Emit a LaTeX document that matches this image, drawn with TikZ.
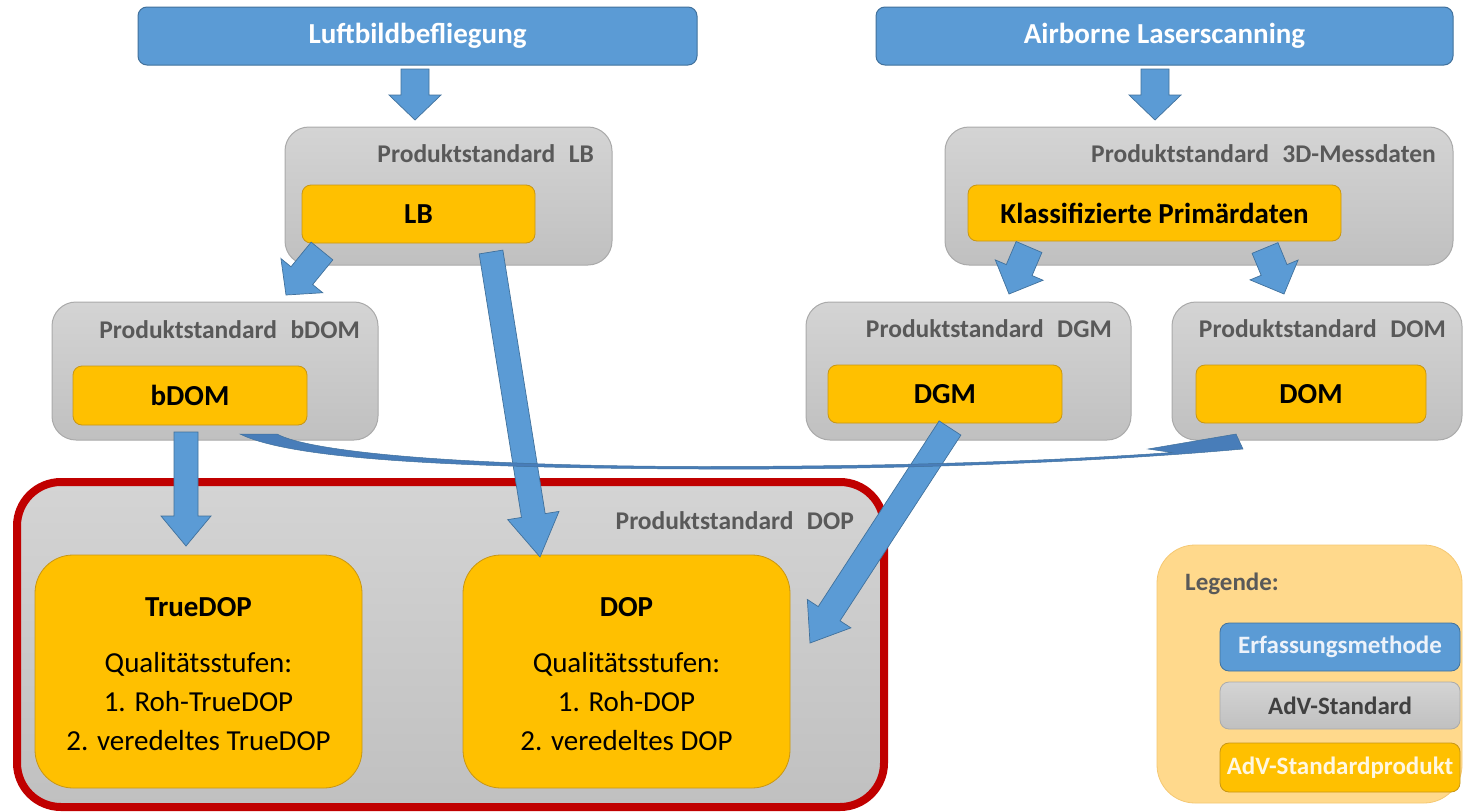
\documentclass[tikz,border=0pt]{standalone}
\usepackage{fontspec}
\setmainfont{Carlito}
\usetikzlibrary{calc}
\definecolor{cblue}{RGB}{91,155,213}
\definecolor{cblueb}{RGB}{65,113,156}
\definecolor{ccurve}{RGB}{72,125,185}
\definecolor{cgrayt}{RGB}{212,212,212}
\definecolor{cgrayl}{RGB}{192,192,192}
\definecolor{cgrayb}{RGB}{170,170,170}
\definecolor{cyel}{RGB}{255,192,0}
\definecolor{cyelb}{RGB}{200,150,20}
\definecolor{cred}{RGB}{192,0,0}
\definecolor{cleg}{RGB}{255,217,140}
\definecolor{clegb}{RGB}{245,200,115}
\definecolor{ctitle}{RGB}{89,89,89}
\definecolor{cdark}{RGB}{64,64,64}
\definecolor{clight}{RGB}{236,242,250}
\definecolor{cwarm}{RGB}{255,247,225}
% block arrow: from, to, half shaft, half head, head length
\newcommand\blockarrow[5]{%
  \path[barrow] let \p1=($(#2)-(#1)$), \n1={atan2(\y1,\x1)}, \n2={veclen(\x1,\y1)-#5} in
    ($(#1)+(\n1+90:#3pt)$) -- ($(#1)+(\n1:\n2)+(\n1+90:#3pt)$) --
    ($(#1)+(\n1:\n2)+(\n1+90:#4pt)$) -- (#2) --
    ($(#1)+(\n1:\n2)+(\n1-90:#4pt)$) -- ($(#1)+(\n1:\n2)+(\n1-90:#3pt)$) --
    ($(#1)+(\n1-90:#3pt)$) -- cycle;}
\begin{document}
\begin{tikzpicture}[x=1pt,y=-1pt,
  bluebox/.style={draw=cblueb, fill=cblue, rounded corners=9pt, line width=1pt, inner sep=0pt,
     text=white, font=\bfseries\fontsize{29}{34}\selectfont},
  graybox/.style={draw=cgrayb, top color=cgrayt, bottom color=cgrayl, rounded corners=24pt,
     line width=1pt, inner sep=0pt},
  yelbox/.style={draw=cyelb, fill=cyel, rounded corners=9pt, line width=0.8pt, inner sep=0pt,
     font=\bfseries\fontsize{29}{34}\selectfont},
  bigyel/.style={draw=cyelb, fill=cyel, rounded corners=38pt, line width=0.8pt, inner sep=0pt},
  gtitle/.style={text=ctitle, font=\bfseries\fontsize{25.5}{30}\selectfont, inner sep=0pt, anchor=base east},
  ytitle/.style={font=\bfseries\fontsize{29}{34}\selectfont, inner sep=0pt, anchor=base},
  ytext/.style={font=\fontsize{29}{34}\selectfont, inner sep=0pt, anchor=base},
  legbox/.style={rounded corners=9pt, line width=0.8pt, inner sep=0pt, minimum width=240pt,
     font=\bfseries\fontsize{25}{30}\selectfont},
  barrow/.style={fill=cblue, draw=cblueb, line width=0.7pt, line join=miter},
]
\useasboundingbox (0,0) rectangle (1464,811);
\fill[white] (0,0) rectangle (1464,811);

% top methods
\node[bluebox, minimum width=559pt, minimum height=58pt] (lbf) at (417.5,36) {Luftbildbefliegung};
\node[bluebox, minimum width=577pt, minimum height=58pt] (als) at (1164.5,36) {Airborne Laserscanning};

% gray standards
\node[graybox, minimum width=327pt, minimum height=138pt] (gLB) at (448.5,196) {};
\node[graybox, minimum width=508pt, minimum height=138pt] (g3D) at (1199,196) {};
\node[graybox, minimum width=326pt, minimum height=138pt] (gbDOM) at (215,371) {};
\node[graybox, minimum width=325pt, minimum height=138pt] (gDGM) at (968.5,371) {};
\node[graybox, minimum width=290pt, minimum height=138pt] (gDOM) at (1317,371) {};

\node[gtitle] (tLB) at (594,162) {Produktstandard\hspace{0.3em} LB};
\node[gtitle] (t3D) at (1436,162) {Produktstandard\hspace{0.3em} 3D-Messdaten};
\node[gtitle] (tbDOM) at (360,338) {Produktstandard\hspace{0.3em} bDOM};
\node[gtitle] (tDGM) at (1112,337) {Produktstandard\hspace{0.3em} DGM};
\node[gtitle] (tDOM) at (1446,337) {Produktstandard\hspace{0.3em} DOM};

% yellow products
\node[yelbox, minimum width=233pt, minimum height=58pt] (yLB) at (418.5,214) {LB};
\node[yelbox, minimum width=373pt, minimum height=56pt] (yKP) at (1154.5,213) {Klassifizierte Primärdaten};
\node[yelbox, minimum width=234pt, minimum height=59pt] (ybDOM) at (190,395.5) {bDOM};
\node[yelbox, minimum width=234pt, minimum height=58pt] (yDGM) at (945,394) {DGM};
\node[yelbox, minimum width=230pt, minimum height=58pt] (yDOM) at (1311,394) {DOM};

% DOP standard
\node[draw=cred, line width=8pt, top color=cgrayt, bottom color=cgrayl, rounded corners=44pt,
      inner sep=0pt, minimum width=867pt, minimum height=325pt] (gDOP) at (450.5,644.5) {};
\node[gtitle] (tDOP) at (854,529) {Produktstandard\hspace{0.3em} DOP};

\node[bigyel, minimum width=327pt, minimum height=233pt] (yTDOP) at (198.5,671.5) {};
\node[ytitle] (hTDOP) at (198.5,616) {TrueDOP};
\node[ytext] (q1) at (198.5,672) {Qualitätsstufen:};
\node[ytext] (q2) at (198.5,711) {1. Roh-TrueDOP};
\node[ytext] (q3) at (198.5,750) {2. veredeltes TrueDOP};

\node[bigyel, minimum width=327pt, minimum height=233pt] (yDOP) at (626.5,671.5) {};
\node[ytitle] (hDOP) at (626.5,616) {DOP};
\node[ytext] (r1) at (626.5,672) {Qualitätsstufen:};
\node[ytext] (r2) at (626.5,711) {1. Roh-DOP};
\node[ytext] (r3) at (626.5,750) {2. veredeltes DOP};

% legend
\node[draw=clegb, fill=cleg, rounded corners=38pt, line width=0.8pt, inner sep=0pt,
      minimum width=305pt, minimum height=258pt] (leg) at (1309.5,674) {};
\node[text=ctitle, font=\bfseries\fontsize{25}{30}\selectfont, inner sep=0pt, anchor=base west] (legt) at (1185,590) {Legende:};
\node[legbox, draw=cblueb, fill=cblue, text=clight, minimum height=48pt] (l1) at (1340,647) {Erfassungsmethode};
\node[legbox, draw=cgrayb, top color=cgrayt, bottom color=cgrayl, text=cdark, minimum height=47pt] (l2) at (1340,705.5) {AdV-Standard};
\node[legbox, draw=cyelb, fill=cyel, text=cwarm, minimum height=49pt] (l3) at (1340,767.5) {AdV-Standardprodukt};

% block arrows
\coordinate (a1s) at (415,69);   \coordinate (a1e) at (415,120);
\coordinate (a2s) at (1155,69);  \coordinate (a2e) at (1155,120);
\coordinate (a3s) at (322,251);  \coordinate (a3e) at (286,295);
\coordinate (a4s) at (491,252);  \coordinate (a4e) at (540,557);
\coordinate (a5s) at (1029,247); \coordinate (a5e) at (1009,294);
\coordinate (a6s) at (1265,248); \coordinate (a6e) at (1284,294);
\coordinate (a7s) at (186,432);  \coordinate (a7e) at (186,546);
\coordinate (a8s) at (950,428);  \coordinate (a8e) at (810,643);
\blockarrow{a1s}{a1e}{14}{26}{25}
\blockarrow{a2s}{a2e}{14}{26}{25}
\blockarrow{a3s}{a3e}{14}{27}{25}
\blockarrow{a4s}{a4e}{12}{26}{42}
\blockarrow{a5s}{a5e}{14}{26}{26}
\blockarrow{a6s}{a6e}{14}{26}{26}
\blockarrow{a7s}{a7e}{12}{25}{30}
\blockarrow{a8s}{a8e}{13}{26}{35}

% curved arrow bDOM -> DOM
\coordinate (c0) at (240,434);
\coordinate (c1) at (277,434);
\coordinate (cm) at (700,469);
\coordinate (cm2) at (700,466.5);
\coordinate (ctip) at (1243,449);
\coordinate (ctop) at (1236,434);
\coordinate (cbarb) at (1148,449);
\coordinate (cback) at (1172,452.5);
\fill[ccurve, draw=cblueb, line width=0.5pt]
  (c0) .. controls (290,459) and (450,468) .. (cm)
       .. controls (900,470) and (1100,462) .. (ctip)
  -- (ctop) -- (cbarb) -- (cback)
       .. controls (1050,461) and (900,466.5) .. (cm2)
       .. controls (460,466) and (310,452) .. (c1) -- cycle;
\end{tikzpicture}
\end{document}
